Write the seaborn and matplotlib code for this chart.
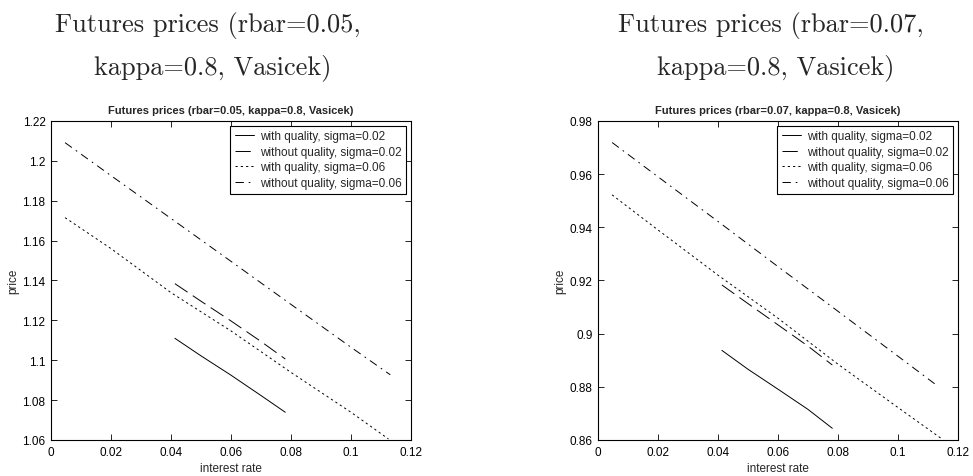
import pandas as pd
import seaborn as sns
import matplotlib.pyplot as plt
from matplotlib.ticker import FuncFormatter, MultipleLocator

# Series labels (legend order)
series_labels = ["with quality, sigma=0.02", "without quality, sigma=0.02",
                 "with quality, sigma=0.06", "without quality, sigma=0.06"]

# Panel 1: rbar=0.05
p1_wq02_x = [0.0413, 0.050, 0.060, 0.070, 0.0781]
p1_wq02_y = [1.1110, 1.1022, 1.0925, 1.0823, 1.0739]
p1_nq02_x = [0.0413, 0.050, 0.060, 0.070, 0.0781]
p1_nq02_y = [1.1384, 1.1296, 1.1197, 1.1094, 1.1006]
p1_wq06_x = [0.0047, 0.020, 0.040, 0.060, 0.080, 0.100, 0.1125]
p1_wq06_y = [1.1715, 1.1560, 1.1339, 1.1147, 1.0939, 1.0739, 1.0605]
p1_nq06_x = [0.0047, 0.020, 0.040, 0.060, 0.080, 0.100, 0.1131]
p1_nq06_y = [1.2091, 1.1926, 1.1711, 1.1496, 1.1280, 1.1065, 1.0927]

# Panel 2: rbar=0.07
p2_wq02_x = [0.0413, 0.050, 0.060, 0.070, 0.0781]
p2_wq02_y = [0.8937, 0.8866, 0.8791, 0.8715, 0.8644]
p2_nq02_x = [0.0413, 0.050, 0.060, 0.070, 0.0781]
p2_nq02_y = [0.9183, 0.9113, 0.9033, 0.8953, 0.8882]
p2_wq06_x = [0.0047, 0.020, 0.040, 0.060, 0.080, 0.100, 0.1145]
p2_wq06_y = [0.9522, 0.9390, 0.9220, 0.9058, 0.8885, 0.8722, 0.8605]
p2_nq06_x = [0.0047, 0.020, 0.040, 0.060, 0.080, 0.100, 0.1131]
p2_nq06_y = [0.9719, 0.9590, 0.9422, 0.9252, 0.9084, 0.8915, 0.8804]

panel_titles = ["Futures prices (rbar=0.05, kappa=0.8, Vasicek)",
                "Futures prices (rbar=0.07, kappa=0.8, Vasicek)"]
outer_line1 = ["Futures prices (rbar=0.05,", "Futures prices (rbar=0.07,"]
outer_line2 = ["kappa=0.8, Vasicek)", "kappa=0.8, Vasicek)"]
y_ranges = [(1.06, 1.22), (0.86, 0.98)]


def make_frame(xs, ys):
    parts = []
    for lab, x, y in zip(series_labels, xs, ys):
        parts.append(pd.DataFrame({"rate": x, "price": y, "series": lab}))
    return pd.concat(parts, ignore_index=True)


df1 = make_frame([p1_wq02_x, p1_nq02_x, p1_wq06_x, p1_nq06_x],
                 [p1_wq02_y, p1_nq02_y, p1_wq06_y, p1_nq06_y])
df2 = make_frame([p2_wq02_x, p2_nq02_x, p2_wq06_x, p2_nq06_x],
                 [p2_wq02_y, p2_nq02_y, p2_wq06_y, p2_nq06_y])

sns.set_style("ticks")
plt.rcParams["font.family"] = ["Liberation Sans", "DejaVu Sans"]
plt.rcParams["lines.scale_dashes"] = False

palette = {lab: "black" for lab in series_labels}
dash_map = {series_labels[0]: "",
            series_labels[1]: (11, 4.5),
            series_labels[2]: (1.6, 2.2),
            series_labels[3]: (6, 3.5, 1.2, 3.5)}

fig = plt.figure(figsize=(9.73, 4.77), dpi=100)
ax1 = fig.add_axes([0.0524, 0.0755, 0.370, 0.6688])
ax2 = fig.add_axes([0.6146, 0.0755, 0.370, 0.6688])

fmt = FuncFormatter(lambda v, pos: "%g" % round(v, 4))

for i, (ax, df) in enumerate([(ax1, df1), (ax2, df2)]):
    sns.lineplot(data=df, x="rate", y="price", hue="series", style="series",
                 palette=palette, dashes=dash_map, linewidth=0.7,
                 sort=False, estimator=None, ax=ax)
    ax.set_xlim(0, 0.12)
    ax.set_ylim(*y_ranges[i])
    ax.xaxis.set_major_locator(MultipleLocator(0.02))
    ax.yaxis.set_major_locator(MultipleLocator(0.02))
    ax.xaxis.set_major_formatter(fmt)
    ax.yaxis.set_major_formatter(fmt)
    ax.tick_params(direction="in", length=4, width=0.6, labelsize=8.5,
                   top=True, right=True, pad=4, colors="black")
    for sp in ax.spines.values():
        sp.set_visible(True)
        sp.set_linewidth(0.8)
        sp.set_color("black")
    ax.set_xlabel("interest rate", fontsize=8.5, labelpad=3)
    ax.set_ylabel("price", fontsize=8.5, labelpad=2)
    ax.set_title(panel_titles[i], fontsize=8, fontweight="bold", pad=6)
    leg = ax.legend(loc="upper right", fontsize=8.5, frameon=True, fancybox=False,
                    edgecolor="black", framealpha=1, borderaxespad=0.4,
                    handlelength=1.6, handletextpad=0.5, labelspacing=0.3,
                    borderpad=0.4, title=None)
    leg.get_frame().set_linewidth(0.8)

line1_x = [208 / 973, 771 / 973]
line2_x = [213 / 973, 776 / 973]
for i in range(2):
    fig.text(line1_x[i], 1 - 32 / 477, outer_line1[i],
             ha="center", va="baseline", fontsize=19, family="cmr10")
    fig.text(line2_x[i], 1 - 74 / 477, outer_line2[i],
             ha="center", va="baseline", fontsize=19, family="cmr10")

fig.savefig("out.png", dpi=100)
